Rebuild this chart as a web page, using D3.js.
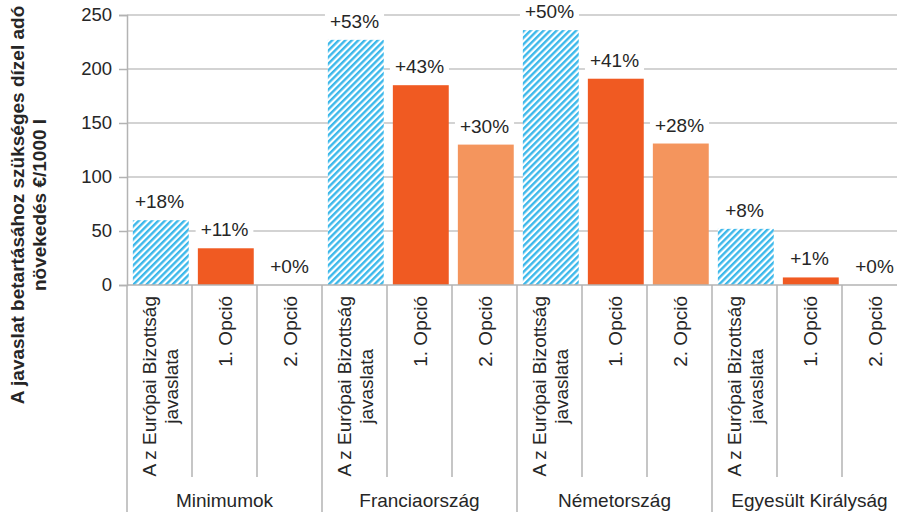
<!DOCTYPE html>
<html>
<head>
<meta charset="utf-8">
<script src="https://cdn.jsdelivr.net/npm/d3@7/dist/d3.min.js"></script>
<style>
  html, body { margin: 0; padding: 0; background: #fff; }
  svg { display: block; font-family: "Liberation Sans", Arial, sans-serif; }
</style>
</head>
<body>
<svg id="chart" width="897" height="512"></svg>
<script>
// Countries / reference sets along the x axis
const groups = ["Minimumok", "Franciaország", "Németország", "Egyesült Királyság"];
// Scenario shown by each bar inside a group
const scenarios = ["A z Európai Bizottság javaslata", "1. Opció", "2. Opció"];
// Tax increase needed, €/1000 l
const euProposal = [60, 227, 236, 52];
const option1 = [34, 185, 191, 7];
const option2 = [0, 130, 131, 0];
// Relative increase printed above the bars
const euProposalPct = ["+18%", "+53%", "+50%", "+8%"];
const option1Pct = ["+11%", "+43%", "+41%", "+1%"];
const option2Pct = ["+0%", "+30%", "+28%", "+0%"];
// y axis ticks
const yTicks = [0, 50, 100, 150, 200, 250];
const yTitle = ["A javaslat betartásához szükséges dízel adó", "növekedés €/1000 l"];

const seriesValues = [euProposal, option1, option2];
const seriesPct = [euProposalPct, option1Pct, option2Pct];
const seriesFill = ["url(#hatch)", "#f05a22", "#f4955d"];

// Flatten into one row per bar
const bars = [];
groups.forEach((g, gi) => {
  scenarios.forEach((s, si) => {
    bars.push({ key: gi + "-" + si, group: g, gi, scenario: s, si,
                value: seriesValues[si][gi], pct: seriesPct[si][gi] });
  });
});

const svg = d3.select("#chart");
const plotLeft = 127, plotRight = 907, plotTop = 15, plotBottom = 285;
const textColor = "#262626";
const lineColor = "#b3b3b3";

const defs = svg.append("defs");
const pat = defs.append("pattern")
  .attr("id", "hatch").attr("patternUnits", "userSpaceOnUse")
  .attr("width", 4.6).attr("height", 4.6)
  .attr("patternTransform", "rotate(45)");
pat.append("rect").attr("width", 4.6).attr("height", 4.6).attr("fill", "#fff");
pat.append("rect").attr("width", 2.4).attr("height", 4.6).attr("fill", "#3cb8ea");

const x = d3.scaleBand().domain(bars.map(d => d.key)).range([plotLeft, plotRight]).padding(0);
const y = d3.scaleLinear().domain([0, 250]).range([plotBottom, plotTop]);
const step = x.step();

// horizontal gridlines
svg.append("g")
  .selectAll("line")
  .data(yTicks.filter(t => t > 0))
  .join("line")
  .attr("x1", plotLeft).attr("x2", plotRight)
  .attr("y1", d => y(d)).attr("y2", d => y(d))
  .attr("stroke", "#c4c4c4").attr("stroke-width", 1.6);

// y axis
const yAxis = svg.append("g")
  .attr("transform", `translate(${plotLeft},0)`)
  .call(d3.axisLeft(y).tickValues(yTicks).tickSize(8).tickPadding(7).tickFormat(d3.format("d")));
yAxis.select(".domain").attr("stroke", lineColor).attr("stroke-width", 1.5);
yAxis.selectAll(".tick line").attr("stroke", lineColor).attr("stroke-width", 1.5);
yAxis.selectAll(".tick text")
  .attr("fill", textColor).attr("font-size", 18.5)
  .attr("font-family", "Liberation Sans, Arial, sans-serif");

// y axis title
const yt = svg.append("text")
  .attr("transform", "translate(0,205) rotate(-90)")
  .attr("text-anchor", "middle")
  .attr("font-weight", "bold").attr("font-size", 19).attr("fill", textColor);
yTitle.forEach((t, i) => {
  yt.append("tspan").attr("x", 0).attr("y", 24 + i * 22).text(t);
});

// bars
svg.append("g")
  .selectAll("rect")
  .data(bars.filter(d => d.value > 0))
  .join("rect")
  .attr("x", d => x(d.key) + step * 0.09)
  .attr("width", step * 0.86)
  .attr("y", d => y(d.value))
  .attr("height", d => y(0) - y(d.value))
  .attr("fill", d => seriesFill[d.si]);

// x axis baseline
svg.append("line")
  .attr("x1", plotLeft).attr("x2", plotRight)
  .attr("y1", plotBottom).attr("y2", plotBottom)
  .attr("stroke", lineColor).attr("stroke-width", 1.5);

// separators between bars and between groups
svg.append("g")
  .selectAll("line")
  .data(d3.range(bars.length + 1))
  .join("line")
  .attr("x1", i => plotLeft + i * step).attr("x2", i => plotLeft + i * step)
  .attr("y1", plotBottom)
  .attr("y2", i => (i % scenarios.length === 0) ? 512 : 477)
  .attr("stroke", lineColor).attr("stroke-width", 1.5);

// value labels with white backing
const lab = svg.append("g")
  .selectAll("g")
  .data(bars)
  .join("g")
  .attr("transform", d => `translate(${x(d.key) + step / 2},${y(d.value) - 12})`);
lab.append("text")
  .attr("text-anchor", "middle")
  .attr("font-size", 19).attr("fill", textColor)
  .text(d => d.pct);
lab.each(function () {
  const g = d3.select(this);
  const w = g.select("text").node().getComputedTextLength();
  g.insert("rect", "text")
    .attr("x", -w / 2 - 5).attr("y", -17)
    .attr("width", w + 10).attr("height", 22)
    .attr("fill", "#fff");
});

// rotated scenario labels
const xl = svg.append("g")
  .selectAll("text")
  .data(bars)
  .join("text")
  .attr("font-size", 19).attr("fill", textColor)
  .attr("text-anchor", "middle");
xl.each(function (d) {
  const t = d3.select(this);
  const lines = d.si === 0 ? ["A z Európai Bizottság", "javaslata"] : [d.scenario];
  const cx = x(d.key) + step / 2;
  const spans = lines.map((ln, i) =>
    t.append("tspan").attr("x", 0)
      .attr("y", (i - (lines.length - 1) / 2) * 22 + 7)
      .text(ln));
  const w = d3.max(spans, s => s.node().getComputedTextLength());
  t.attr("transform", `translate(${cx},${296 + w / 2}) rotate(-90)`);
});

// group labels
svg.append("g")
  .selectAll("text")
  .data(groups)
  .join("text")
  .attr("x", (g, gi) => plotLeft + step * (gi * 3 + 1.5))
  .attr("y", 507)
  .attr("text-anchor", "middle")
  .attr("font-size", 19).attr("fill", textColor)
  .text(d => d);
</script>
</body>
</html>
